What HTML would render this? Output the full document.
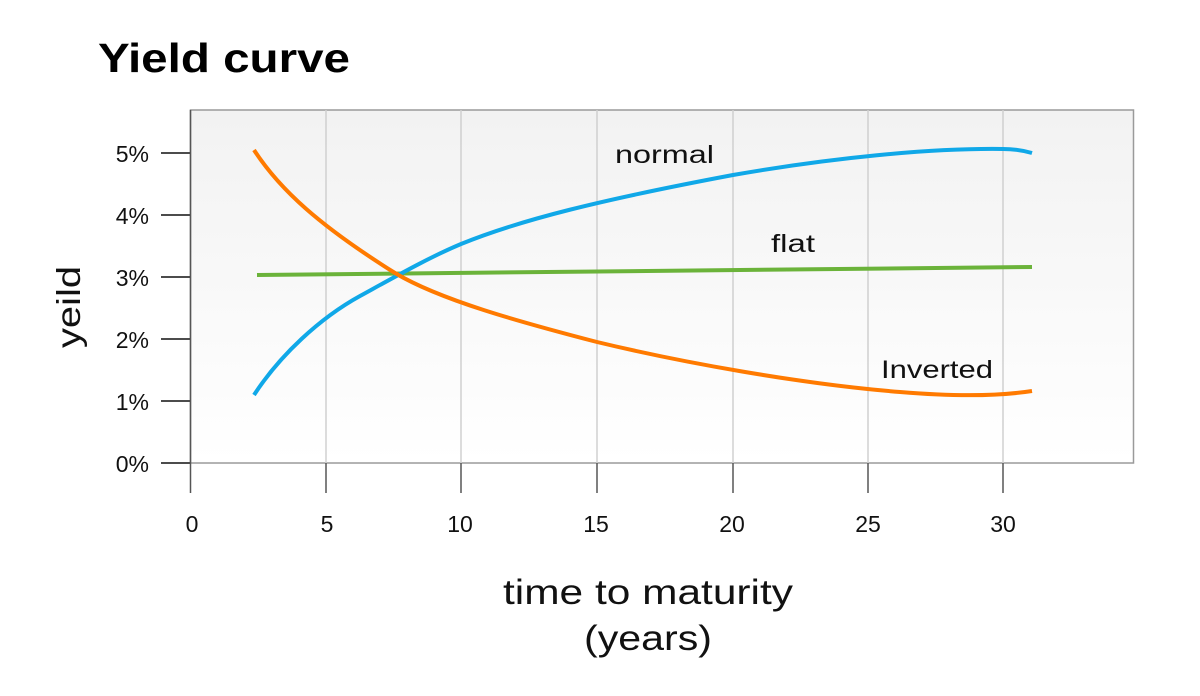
<!DOCTYPE html>
<html><head><style>body{margin:0;background:#fff}</style></head><body>
<svg width="1200" height="691" xmlns="http://www.w3.org/2000/svg" font-family="Liberation Sans, sans-serif">
<defs><linearGradient id="bg" x1="0" y1="0" x2="0" y2="1"><stop offset="0" stop-color="#f2f2f2"/><stop offset="1" stop-color="#ffffff"/></linearGradient></defs>
<text x="98" y="72" font-size="41" font-weight="bold" fill="#000" textLength="252" lengthAdjust="spacingAndGlyphs">Yield curve</text>
<rect x="190.5" y="110" width="943" height="353" fill="url(#bg)" stroke="#9a9a9a" stroke-width="1.5"/>
<g stroke="#d0d0d0" stroke-width="1.5">
<line x1="326" y1="110" x2="326" y2="463"/><line x1="461" y1="110" x2="461" y2="463"/><line x1="597" y1="110" x2="597" y2="463"/><line x1="733" y1="110" x2="733" y2="463"/><line x1="868" y1="110" x2="868" y2="463"/><line x1="1003" y1="110" x2="1003" y2="463"/>
</g>
<g stroke="#111" stroke-width="1.5">
<line x1="161" y1="153" x2="190" y2="153"/><line x1="161" y1="215" x2="190" y2="215"/><line x1="161" y1="277" x2="190" y2="277"/><line x1="161" y1="339" x2="190" y2="339"/><line x1="161" y1="401" x2="190" y2="401"/><line x1="161" y1="463" x2="190" y2="463"/>
</g>
<g stroke="#555" stroke-width="1.5">
<line x1="190.5" y1="110" x2="190.5" y2="493"/><line x1="326" y1="463" x2="326" y2="493"/><line x1="461" y1="463" x2="461" y2="493"/><line x1="597" y1="463" x2="597" y2="493"/><line x1="733" y1="463" x2="733" y2="493"/><line x1="868" y1="463" x2="868" y2="493"/><line x1="1003" y1="463" x2="1003" y2="493"/>
</g>
<g font-size="23" fill="#111" text-anchor="end">
<text x="149" y="162">5%</text><text x="149" y="224">4%</text><text x="149" y="286">3%</text><text x="149" y="348">2%</text><text x="149" y="410">1%</text><text x="149" y="472">0%</text>
</g>
<g font-size="23" fill="#111" text-anchor="middle">
<text x="192" y="532">0</text><text x="327" y="532">5</text><text x="460" y="532">10</text><text x="596" y="532">15</text><text x="732" y="532">20</text><text x="868" y="532">25</text><text x="1003" y="532">30</text>
</g>
<text x="503" y="604" font-size="35" fill="#111" textLength="290" lengthAdjust="spacingAndGlyphs">time to maturity</text>
<text x="584" y="650" font-size="35" fill="#111" textLength="128" lengthAdjust="spacingAndGlyphs">(years)</text>
<text transform="translate(80,307) rotate(-90)" font-size="33" text-anchor="middle" fill="#111" textLength="82" lengthAdjust="spacingAndGlyphs">yeild</text>
<line x1="257" y1="275" x2="1032" y2="267" stroke="#6bb33a" stroke-width="4"/>
<path d="M254,395 C280,355 320,318 360,296 C400,274 430,257 461,244 C520,220 600,200 733,175 C830,158 930,148 1003,149 C1015,149 1025,151 1032,153" fill="none" stroke="#10a8e8" stroke-width="4"/>
<path d="M254,150 C280,190 320,226 395,273 C440,300 520,322 597,342 C680,362 800,384 900,392 C960,397 1000,396 1032,391" fill="none" stroke="#ff7a00" stroke-width="4"/>
<g font-size="25" fill="#111">
<text x="615" y="163" textLength="99" lengthAdjust="spacingAndGlyphs">normal</text><text x="771" y="252" textLength="44" lengthAdjust="spacingAndGlyphs">flat</text><text x="881" y="378" textLength="112" lengthAdjust="spacingAndGlyphs">Inverted</text>
</g>
</svg>
</body></html>
